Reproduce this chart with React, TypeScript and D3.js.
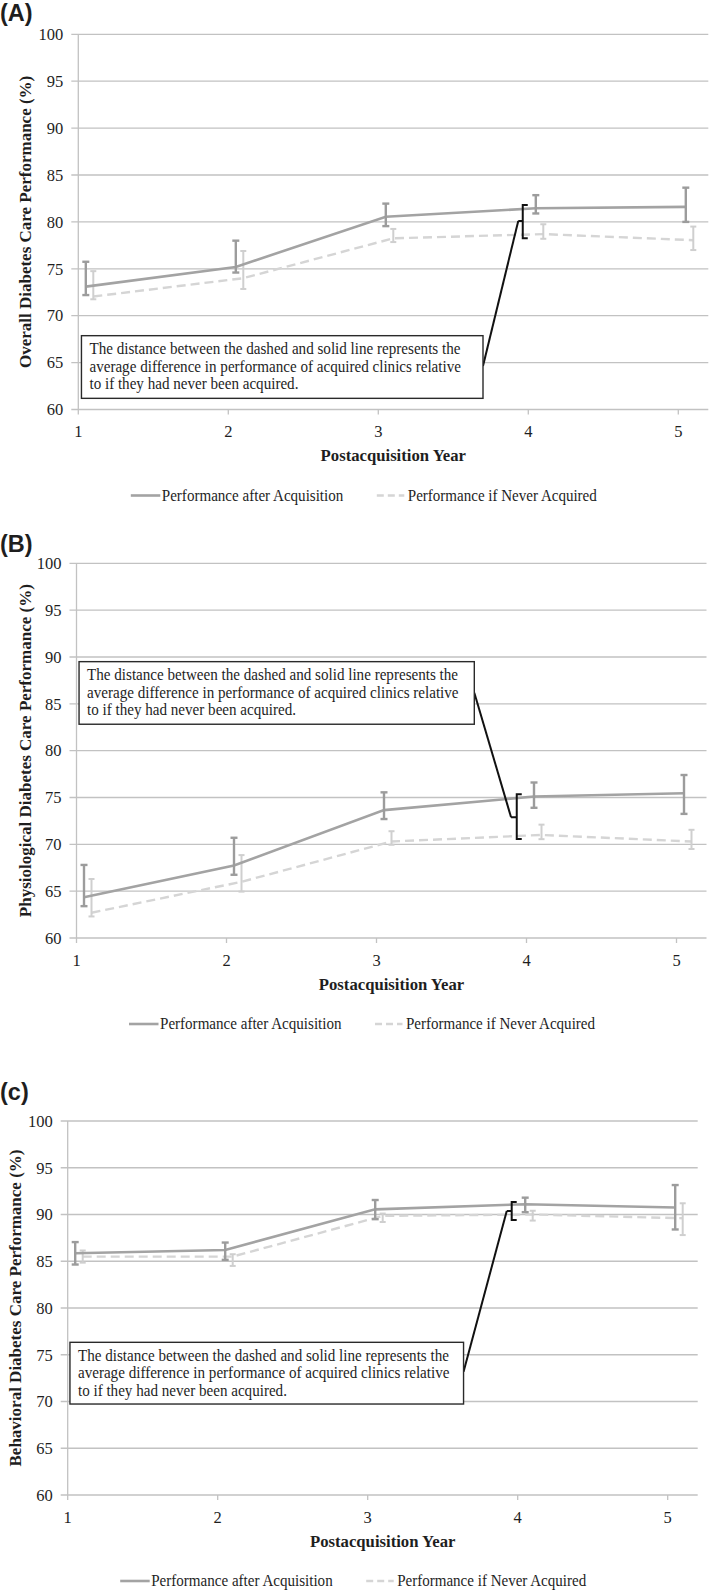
import React from "react";
import * as d3 from "d3";

// ---------- data ----------
const years = [1, 2, 3, 4, 5];
const yTicks = [60, 65, 70, 75, 80, 85, 90, 95, 100];
const afterX = [1.05, 2.05, 3.05, 4.05, 5.05];
const neverX = [1.1, 2.1, 3.1, 4.1, 5.1];

const overallAfter = [73.1, 75.2, 80.55, 81.45, 81.6];
const overallAfterLow = [72.2, 74.6, 79.55, 80.9, 80.0];
const overallAfterHigh = [75.75, 78.0, 81.95, 82.85, 83.65];
const overallNever = [72.05, 74.0, 78.25, 78.7, 78.05];
const overallNeverLow = [71.75, 72.85, 77.85, 78.2, 77.0];
const overallNeverHigh = [74.75, 76.9, 79.25, 79.75, 79.5];

const physAfter = [64.35, 67.75, 73.65, 75.1, 75.45];
const physAfterLow = [63.4, 66.75, 72.7, 73.9, 73.25];
const physAfterHigh = [67.8, 70.7, 75.55, 76.6, 77.4];
const physNever = [62.7, 66.0, 70.3, 71.0, 70.3];
const physNeverLow = [62.3, 64.95, 69.95, 70.55, 69.5];
const physNeverHigh = [66.3, 68.85, 71.4, 72.1, 71.55];

const behavAfter = [85.85, 86.2, 90.55, 91.1, 90.75];
const behavAfterLow = [84.65, 85.15, 89.5, 90.25, 88.4];
const behavAfterHigh = [87.05, 87.0, 91.55, 91.8, 93.15];
const behavNever = [85.5, 85.5, 89.85, 90.0, 89.6];
const behavNeverLow = [84.85, 84.5, 89.2, 89.35, 87.8];
const behavNeverHigh = [86.15, 85.75, 90.1, 90.4, 91.2];

const noteLines = [
  "The distance between the dashed and solid line represents the",
  "average difference in performance of acquired clinics relative",
  "to if they had never been acquired.",
];
const legendLabels = ["Performance after Acquisition", "Performance if Never Acquired"];
const xTitle = "Postacquisition Year";

// ---------- panel configs ----------
const panels = [
  {
    label: "(A)", labelY: 21, top: 34.3, bottom: 409.5, left: 78.3,
    yTitle: "Overall Diabetes Care Performance (%)", yTitleX: 30.5,
    after: overallAfter, afterLow: overallAfterLow, afterHigh: overallAfterHigh,
    never: overallNever, neverLow: overallNeverLow, neverHigh: overallNeverHigh,
    note: { x1: 1.021, x2: 3.698, yTop: 67.87, yBottom: 61.19, calloutY: 64.64, notchX: 3.933, notchY: 80.1, brX: 3.963, brTop: 81.8, brBottom: 78.25 },
  },
  {
    label: "(B)", labelY: 552, top: 563.3, bottom: 938, left: 76.5,
    yTitle: "Physiological Diabetes Care Performance (%)", yTitleX: 30.5,
    after: physAfter, afterLow: physAfterLow, afterHigh: physAfterHigh,
    never: physNever, neverLow: physNeverLow, neverHigh: physNeverHigh,
    note: { x1: 1.017, x2: 3.652, yTop: 89.5, yBottom: 82.82, calloutY: 86.19, notchX: 3.897, notchY: 72.9, brX: 3.935, brTop: 75.35, brBottom: 70.58 },
  },
  {
    label: "(c)", labelY: 1100, top: 1121, bottom: 1495, left: 67.7,
    yTitle: "Behavioral Diabetes Care Performance (%)", yTitleX: 21,
    after: behavAfter, afterLow: behavAfterLow, afterHigh: behavAfterHigh,
    never: behavNever, neverLow: behavNeverLow, neverHigh: behavNeverHigh,
    note: { x1: 1.015, x2: 3.639, yTop: 76.33, yBottom: 69.73, calloutY: 73.19, notchX: 3.927, notchY: 90.37, brX: 3.96, brTop: 91.34, brBottom: 89.41 },
  },
];

const SERIF = "'Liberation Serif', 'Times New Roman', Times, serif";
const SANS = "'Liberation Sans', Arial, Helvetica, sans-serif";
const GRID = "#c2c2c2";
const SOLID = "#a3a3a3";
const DASH = "#d5d5d5";
const TEXT = "#1e1e1e";
const noteWidths = [371, 371.5, 209];
const legendWidths = [181.5, 189];

function Panel({ cfg }: { cfg: any }) {
  const x = d3.scaleLinear().domain([1, 5.2]).range([cfg.left, cfg.left + 630]);
  const y = d3.scaleLinear().domain([60, 100]).range([cfg.bottom, cfg.top]);
  const lineA = d3.line<number>().x((_, i) => x(afterX[i])).y((d) => y(d));
  const lineN = d3.line<number>().x((_, i) => x(neverX[i])).y((d) => y(d));
  const n = cfg.note;
  const bx = x(n.brX);
  const boxL = x(n.x1), boxR = x(n.x2), boxT = y(n.yTop), boxB = y(n.yBottom);
  const legY = cfg.bottom + 86;

  return (
    <g>
      <text x={0} y={cfg.labelY} fontFamily={SANS} fontWeight="bold" fontSize={23.5} fill={TEXT}>{cfg.label}</text>
      {yTicks.map((t) => (
        <g key={t}>
          <line x1={cfg.left - 7} x2={x(5.2)} y1={y(t)} y2={y(t)} stroke={GRID} strokeWidth={1.3} />
          <text x={cfg.left - 15} y={y(t)} dy="0.35em" textAnchor="end" fontFamily={SERIF} fontSize={16.5} fill={TEXT}>{t}</text>
        </g>
      ))}
      <line x1={cfg.left} x2={cfg.left} y1={cfg.top} y2={cfg.bottom} stroke={GRID} strokeWidth={1.3} />
      {years.map((v) => (
        <g key={v}>
          <line x1={x(v)} x2={x(v)} y1={cfg.bottom} y2={cfg.bottom + 5} stroke={GRID} strokeWidth={1.3} />
          <text x={x(v)} y={cfg.bottom + 27.5} textAnchor="middle" fontFamily={SERIF} fontSize={16.5} fill={TEXT}>{v}</text>
        </g>
      ))}
      <text x={(cfg.left + x(5.2)) / 2} y={cfg.bottom + 51.5} textAnchor="middle" fontFamily={SERIF} fontWeight="bold" fontSize={16.7} fill={TEXT}>{xTitle}</text>
      <text transform={`translate(${cfg.yTitleX},${(cfg.top + cfg.bottom) / 2}) rotate(-90)`} textAnchor="middle" fontFamily={SERIF} fontWeight="bold" fontSize={17} fill={TEXT}>{cfg.yTitle}</text>

      <path d={lineN(cfg.never) || ""} fill="none" stroke={DASH} strokeWidth={2.4} strokeDasharray="9,5" />
      {cfg.never.map((_: number, i: number) => {
        const cx = x(neverX[i]);
        return (
          <g key={"n" + i} stroke="#cfcfcf" strokeWidth={2}>
            <line x1={cx} x2={cx} y1={y(cfg.neverLow[i])} y2={y(cfg.neverHigh[i])} />
            <line x1={cx - 3} x2={cx + 3} y1={y(cfg.neverLow[i])} y2={y(cfg.neverLow[i])} />
            <line x1={cx - 3} x2={cx + 3} y1={y(cfg.neverHigh[i])} y2={y(cfg.neverHigh[i])} />
          </g>
        );
      })}
      <path d={lineA(cfg.after) || ""} fill="none" stroke={SOLID} strokeWidth={2.6} />
      {cfg.after.map((_: number, i: number) => {
        const cx = x(afterX[i]);
        return (
          <g key={"a" + i} stroke="#9c9c9c" strokeWidth={2.4}>
            <line x1={cx} x2={cx} y1={y(cfg.afterLow[i])} y2={y(cfg.afterHigh[i])} />
            <line x1={cx - 3.5} x2={cx + 3.5} y1={y(cfg.afterLow[i])} y2={y(cfg.afterLow[i])} />
            <line x1={cx - 3.5} x2={cx + 3.5} y1={y(cfg.afterHigh[i])} y2={y(cfg.afterHigh[i])} />
          </g>
        );
      })}

      <path d={`M${bx + 5},${y(n.brTop)}H${bx}V${y(n.brBottom)}H${bx + 5}M${bx},${y(n.notchY)}H${x(n.notchX)}`} fill="none" stroke="#111" strokeWidth={2} />
      <line x1={boxR} y1={y(n.calloutY)} x2={x(n.notchX)} y2={y(n.notchY)} stroke="#111" strokeWidth={2} />
      <rect x={boxL} y={boxT} width={boxR - boxL} height={boxB - boxT} fill="#fff" stroke="#2a2a2a" strokeWidth={1.4} />
      {noteLines.map((s, i) => (
        <text key={i} x={boxL + 8} y={boxT + 18.5 + i * 17.5} fontFamily={SERIF} fontSize={16} textLength={noteWidths[i]} lengthAdjust="spacingAndGlyphs" fill={TEXT}>{s}</text>
      ))}

      <line x1={cfg.left + 52.5} x2={cfg.left + 82} y1={legY} y2={legY} stroke={SOLID} strokeWidth={2.6} />
      <text x={cfg.left + 83.5} y={legY} dy="0.33em" fontFamily={SERIF} fontSize={16} textLength={legendWidths[0]} lengthAdjust="spacingAndGlyphs" fill={TEXT}>{legendLabels[0]}</text>
      <line x1={cfg.left + 298.5} x2={cfg.left + 326} y1={legY} y2={legY} stroke={DASH} strokeWidth={2.4} strokeDasharray="7,4" />
      <text x={cfg.left + 329.5} y={legY} dy="0.33em" fontFamily={SERIF} fontSize={16} textLength={legendWidths[1]} lengthAdjust="spacingAndGlyphs" fill={TEXT}>{legendLabels[1]}</text>
    </g>
  );
}

export default function App() {
  return (
    <svg width={709} height={1591} style={{ position: "absolute", left: 0, top: 0, background: "#fff" }}>
      <rect x={0} y={0} width={709} height={1591} fill="#fff" />
      {panels.map((p, i) => (
        <Panel key={i} cfg={p} />
      ))}
    </svg>
  );
}
